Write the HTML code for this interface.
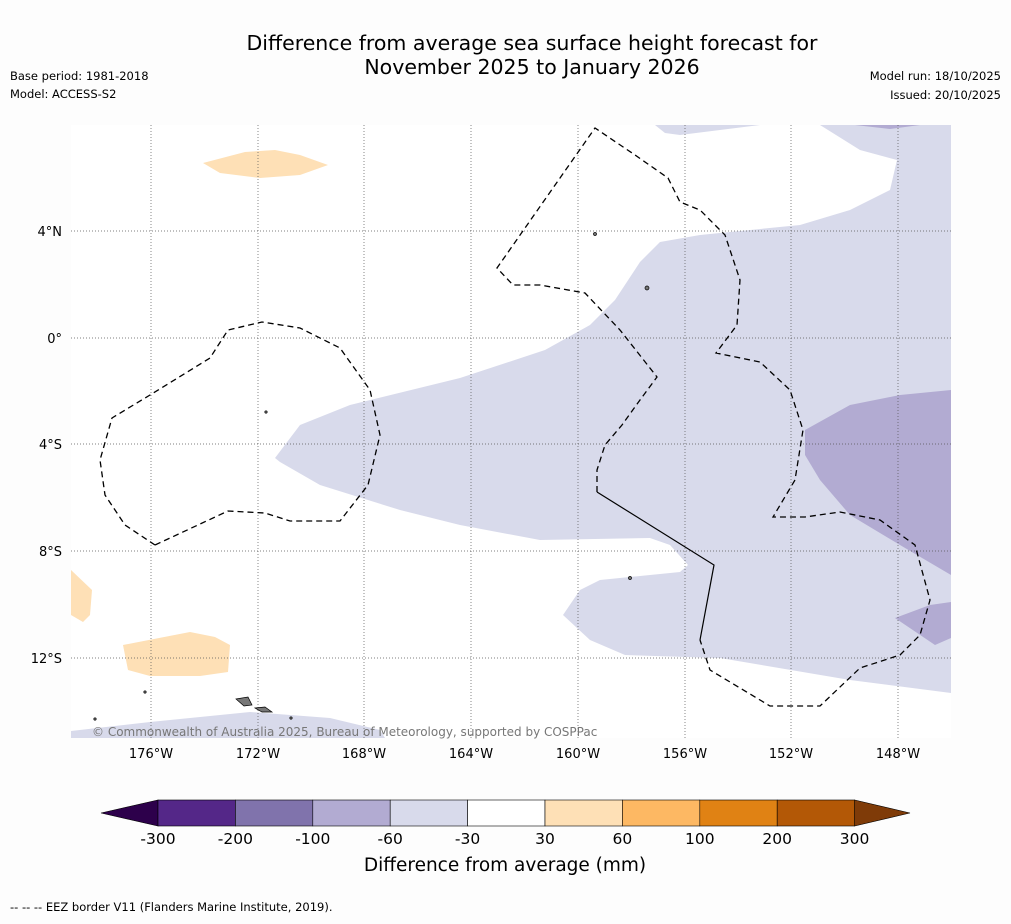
<!DOCTYPE html>
<html><head><meta charset="utf-8"><style>
body{margin:0;background:#fdfdfd;font-family:"Liberation Sans",sans-serif;}
svg text{font-family:"DejaVu Sans","Liberation Sans",sans-serif;}
</style></head><body>
<svg width="1011" height="919" viewBox="0 0 1011 919">
<rect width="1011" height="919" fill="#fdfdfd"/>
<text x="532" y="50" text-anchor="middle" font-size="20.5">Difference from average sea surface height forecast for</text>
<text x="532" y="74" text-anchor="middle" font-size="20.5">November 2025 to January 2026</text>
<text x="10" y="80" font-size="11.5">Base period: 1981-2018</text>
<text x="10" y="98" font-size="11.5">Model: ACCESS-S2</text>
<text x="1001" y="80" font-size="11.5" text-anchor="end">Model run: 18/10/2025</text>
<text x="1001" y="99" font-size="11.5" text-anchor="end">Issued: 20/10/2025</text>
<g>
<rect x="71" y="125" width="880" height="613" fill="#fff"/>
<polygon fill="#d8daeb" points="275,458 300,425 350,405 460,378 545,350 590,325 615,300 640,262 660,242 700,235 800,225 850,210 890,190 897,160 860,150 820,125 951,125 951,693 850,680 720,658 625,655 590,640 563,615 580,590 600,580 680,572 688,565 670,545 650,538 540,540 460,525 400,510 320,485 280,462"/>
<polygon fill="#d8daeb" points="655,125 760,125 720,130 680,135 665,133"/>
<polygon fill="#b2abd2" points="855,125 920,125 890,129"/>
<polygon fill="#b2abd2" points="805,430 850,405 900,395 951,390 951,575 900,545 850,515 820,480 805,455"/>
<polygon fill="#b2abd2" points="895,618 930,605 951,602 951,638 935,645"/>
<polygon fill="#d8daeb" points="71,731 150,722 250,712 330,718 380,730 385,738 71,738"/>
<polygon fill="#fee0b6" points="203,163 245,152 275,150 300,155 328,165 300,175 260,178 220,173"/>
<polygon fill="#fee0b6" points="71,570 92,590 90,615 83,622 71,615"/>
<polygon fill="#fee0b6" points="123,645 190,632 215,637 230,645 228,672 200,676 150,676 128,670"/>
<g stroke="#555" stroke-width="0.7" stroke-dasharray="1,2">
<line x1="151" y1="125" x2="151" y2="738"/><line x1="258" y1="125" x2="258" y2="738"/><line x1="364" y1="125" x2="364" y2="738"/><line x1="471" y1="125" x2="471" y2="738"/><line x1="578" y1="125" x2="578" y2="738"/><line x1="685" y1="125" x2="685" y2="738"/><line x1="791" y1="125" x2="791" y2="738"/><line x1="898" y1="125" x2="898" y2="738"/>
<line x1="71" y1="231" x2="951" y2="231"/><line x1="71" y1="338" x2="951" y2="338"/><line x1="71" y1="444" x2="951" y2="444"/><line x1="71" y1="551" x2="951" y2="551"/><line x1="71" y1="658" x2="951" y2="658"/>
</g>
<g fill="none" stroke="#000" stroke-width="1.3" stroke-dasharray="6,4">
<polyline points="155,545 125,525 105,495 100,460 112,418 150,395 210,358 228,330 262,322 300,328 340,348 370,390 380,435 368,485 340,521 290,521 265,513 228,511 155,545"/>
<polyline points="597,492 597,470 605,445 622,425 640,400 657,377 620,330 585,293 540,285 513,285 497,268 595,128 635,155 668,178 680,202 700,210 725,235 740,280 737,325 716,353 760,362 790,390 803,430 795,480 773,517 805,517 840,512 880,520 915,545 930,600 920,635 900,655 860,668 820,706 770,706 710,670 700,640"/>
</g>
<polyline fill="none" stroke="#000" stroke-width="1.2" points="597,492 714,565 700,640"/>
<g fill="#777" stroke="#000" stroke-width="0.7">
<polygon points="236,699 248,697 252,705 244,706"/><polygon points="255,708 265,707 272,712 262,712"/>
<circle cx="595" cy="234" r="1.5"/><circle cx="647" cy="288" r="2"/><circle cx="266" cy="412" r="1.2"/><circle cx="630" cy="578" r="1.5"/><circle cx="145" cy="692" r="1.2"/><circle cx="95" cy="719" r="1.2"/><circle cx="291" cy="718" r="1.2"/>
</g>
</g>
<text x="92" y="736" font-size="12" fill="#777">© Commonwealth of Australia 2025, Bureau of Meteorology, supported by COSPPac</text>
<g font-size="13">
<text x="151" y="758" text-anchor="middle">176°W</text><text x="258" y="758" text-anchor="middle">172°W</text><text x="364" y="758" text-anchor="middle">168°W</text><text x="471" y="758" text-anchor="middle">164°W</text><text x="578" y="758" text-anchor="middle">160°W</text><text x="685" y="758" text-anchor="middle">156°W</text><text x="791" y="758" text-anchor="middle">152°W</text><text x="898" y="758" text-anchor="middle">148°W</text>
</g>
<g font-size="13" text-anchor="end">
<text x="62" y="236">4°N</text><text x="62" y="343">0°</text><text x="62" y="449">4°S</text><text x="62" y="556">8°S</text><text x="62" y="663">12°S</text>
</g>
<g id="cbar"></g>
<text x="505" y="871" text-anchor="middle" font-size="18.5">Difference from average (mm)</text>
<text x="10" y="911" font-size="11.5">--  --  -- EEZ border V11 (Flanders Marine Institute, 2019).</text>
</svg>
<script>
const cbLabels=["-300","-200","-100","-60","-30","30","60","100","200","300"];
const cbColors=["#542788","#8073ac","#b2abd2","#d8daeb","#ffffff","#fee0b6","#fdb863","#e08214","#b35806"];
const g=document.getElementById('cbar');
const ns="http://www.w3.org/2000/svg";
const x0=158,w=77.4,y0=800,h=26;
function mk(t,a){const e=document.createElementNS(ns,t);for(const k in a)e.setAttribute(k,a[k]);g.appendChild(e);return e;}
const l=mk('polygon',{points:`${x0},${y0} ${x0},${y0+h} 101,${y0+h/2}`,fill:'#2d004b',stroke:'#000','stroke-width':0.6});


const xe=x0+w*cbColors.length;
const r=mk('polygon',{points:`${xe},${y0} ${xe},${y0+h} 910,${y0+h/2}`,fill:'#7f3b08',stroke:'#000','stroke-width':0.6});


cbColors.forEach((c,i)=>{
 const b=mk('rect',{x:x0+i*w,y:y0,width:w,height:h,fill:c,stroke:'#000','stroke-width':0.6});
 
 
});
cbLabels.forEach((s,i)=>{
 const t=mk('text',{x:x0+i*w,y:844,'text-anchor':'middle','font-size':15.5});
 t.textContent=s;
 
 
});
</script>
</body></html>
